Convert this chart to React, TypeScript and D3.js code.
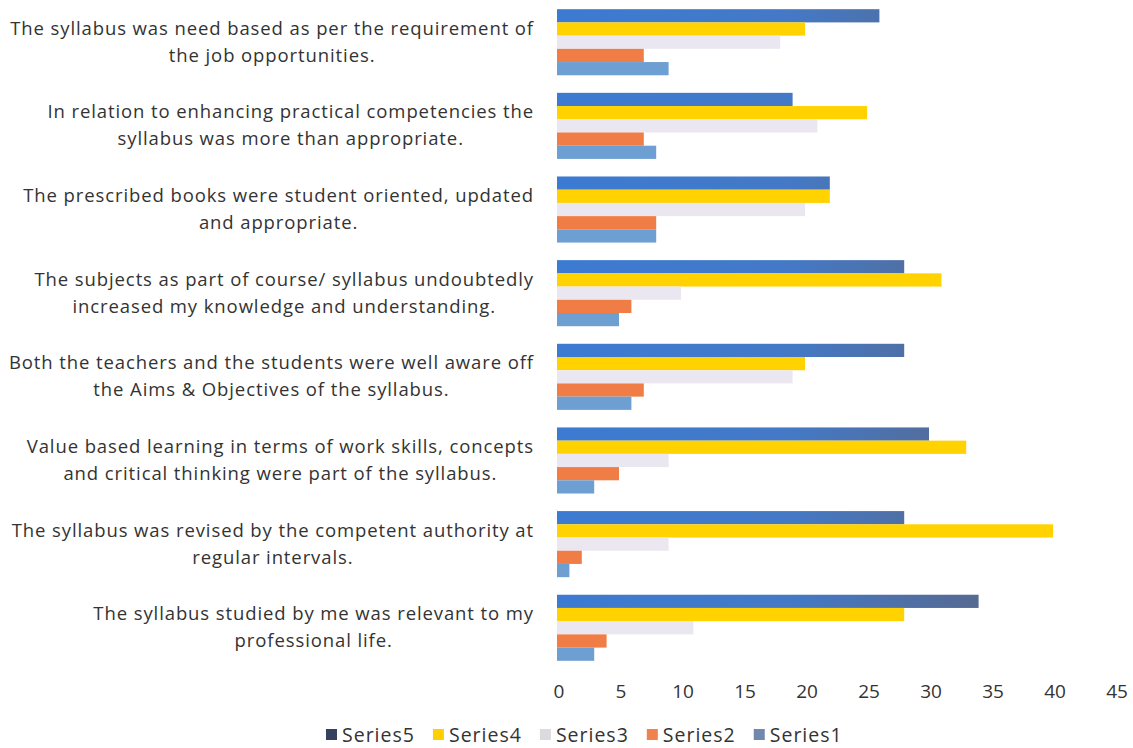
import { useEffect, useRef } from "react";
import * as d3 from "d3";

const categories = [
  ["The syllabus was need based as per the requirement of", "the job opportunities."],
  ["In relation to enhancing practical competencies the", "syllabus was more than appropriate."],
  ["The prescribed books were student oriented, updated", "and appropriate."],
  ["The subjects as part of course/ syllabus undoubtedly", "increased my knowledge and understanding."],
  ["Both the teachers and the students were well aware off", "the Aims & Objectives of the syllabus."],
  ["Value based learning in terms of work skills, concepts", "and critical thinking were part of the syllabus."],
  ["The syllabus was revised by the competent authority at", "regular intervals."],
  ["The syllabus studied by me was relevant to my", "professional life."],
];

const seriesNames = ["Series5", "Series4", "Series3", "Series2", "Series1"];

const series5 = [26, 19, 22, 28, 28, 30, 28, 34];
const series4 = [20, 25, 22, 31, 20, 33, 40, 28];
const series3 = [18, 21, 20, 10, 19, 9, 9, 11];
const series2 = [7, 7, 8, 6, 7, 5, 2, 4];
const series1 = [9, 8, 8, 5, 6, 3, 1, 3];

const seriesValues = [series5, series4, series3, series2, series1];

const xTicks = [0, 5, 10, 15, 20, 25, 30, 35, 40, 45];

const barColors = ["url(#s5grad)", "#ffd200", "#ebe7f0", "#f17d46", "#6e9fd2"];
const legendColors = ["#34415f", "#ffcf00", "#dcdadf", "#f0824e", "#7188ad"];

const W = 1133;
const H = 748;
const FONT = "'Open Sans', sans-serif";
const INK = "#333";

const App = () => {
  const ref = useRef<SVGSVGElement | null>(null);

  useEffect(() => {
    if (!ref.current) return;
    const svg = d3.select(ref.current);
    svg.selectAll("*").remove();

    const x = d3.scaleLinear().domain([0, 45]).range([557, 1115]);
    const y = d3
      .scaleBand<number>()
      .domain(d3.range(categories.length))
      .range([5, 665])
      .paddingInner(0.21)
      .paddingOuter(0.05);
    const inner = d3
      .scaleBand<number>()
      .domain(d3.range(seriesNames.length))
      .range([0, y.bandwidth()]);

    // gradient for the scanned Series5 bars (blue fading to slate)
    const grad = svg
      .append("defs")
      .append("linearGradient")
      .attr("id", "s5grad")
      .attr("gradientUnits", "userSpaceOnUse")
      .attr("x1", x(0))
      .attr("x2", x(34));
    grad.append("stop").attr("offset", "0").attr("stop-color", "#3c7bd2");
    grad.append("stop").attr("offset", "0.55").attr("stop-color", "#4479c6");
    grad.append("stop").attr("offset", "1").attr("stop-color", "#566a92");

    // bars
    seriesValues.forEach((vals, si) => {
      svg
        .append("g")
        .selectAll("rect")
        .data(vals)
        .join("rect")
        .attr("x", x(0))
        .attr("y", (_, i) => (y(i) ?? 0) + (inner(si) ?? 0))
        .attr("width", (d) => x(d) - x(0))
        .attr("height", inner.bandwidth())
        .attr("fill", barColors[si]);
    });

    // category labels, wrapped in two centered lines, right edge aligned
    const labelRight = 534;
    const lab = svg
      .append("g")
      .attr("font-family", FONT)
      .attr("font-size", 18.5)
      .attr("letter-spacing", 0.9)
      .attr("fill", INK);
    categories.forEach((lines, i) => {
      const texts = lines.map((l) => lab.append("text").text(l));
      const widths = texts.map((t) => (t.node() as SVGTextElement).getComputedTextLength());
      const maxW = d3.max(widths) ?? 0;
      const cx = labelRight - maxW / 2;
      const cy = (y(i) ?? 0) + y.bandwidth() / 2;
      texts.forEach((t, li) => {
        t.attr("x", cx)
          .attr("y", cy + (li - 0.5) * 27 + 6)
          .attr("text-anchor", "middle");
      });
    });

    // x axis tick labels
    svg
      .append("g")
      .attr("font-family", FONT)
      .attr("font-size", 19)
      .attr("fill", INK)
      .selectAll("text")
      .data(xTicks)
      .join("text")
      .attr("x", (d) => x(d) + 2)
      .attr("y", 698)
      .attr("text-anchor", "middle")
      .text((d) => d);

    // legend
    const leg = svg
      .append("g")
      .attr("font-family", FONT)
      .attr("font-size", 19.5)
      .attr("letter-spacing", 1)
      .attr("fill", INK);
    let lx = 326;
    seriesNames.forEach((name, i) => {
      leg
        .append("rect")
        .attr("x", lx)
        .attr("y", 729)
        .attr("width", 11)
        .attr("height", 11)
        .attr("fill", legendColors[i]);
      const t = leg
        .append("text")
        .attr("x", lx + 16)
        .attr("y", 742)
        .text(name);
      const tw = (t.node() as SVGTextElement).getComputedTextLength();
      lx += 16 + tw + 18;
    });
  }, []);

  return (
    <svg
      ref={ref}
      width={W}
      height={H}
      style={{ position: "absolute", left: 0, top: 0, background: "#fff" }}
    ></svg>
  );
};

export default App;
